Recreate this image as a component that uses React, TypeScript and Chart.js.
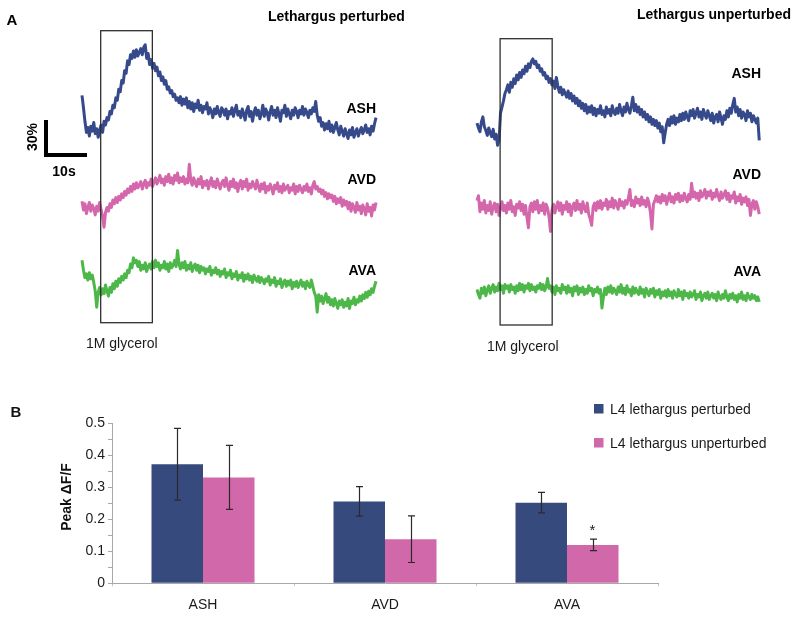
import React, { useEffect, useRef } from 'react';
import { Chart, registerables } from 'chart.js';

Chart.register(...registerables);

const FONT = '"Liberation Sans", Arial, Helvetica, sans-serif';

// ---------------- Panel A: calcium traces, ΔF/F (%) sampled every 0.35 s ----------------
const SAMPLE_INTERVAL_S = 0.35;
const TRACE_NAMES = ['ASH', 'AVD', 'AVA'];

const PERTURBED_ASH = [
  24, 14, 3, -6, -2, -9, -1, -5, 2, -7,
  -3, -10, -4, 0, -6, 3,
  0, 6, 4, 11, 9, 16, 14, 22, 20, 29, 27, 36, 34, 44, 42, 52,
  49, 57, 54, 60, 55, 61, 56, 59, 62, 57, 63, 65,
  54, 58, 49, 53, 46, 50, 44, 47, 40, 43, 36, 39,
  33, 36, 29, 31, 26, 28, 23, 25, 20, 22,
  18, 23, 16, 21, 17, 22, 14, 19,
  13, 18, 11, 17, 14, 20, 12, 16, 10, 15, 13, 18, 9, 14,
  11, 6, 13, 9, 15, 10, 7, 14, 12, 8, 13, 5, 11, 9, 14, 7, 12, 16, 8, 11,
  6, 13, 9, 4, 12, 15, 7, 11, 3, 10,
  14, 8, 12, 5, 9, 16, 7, 13, 10, 4,
  11, 15, 8, 12, 6, 14, 9, 3, 12, 10,
  16, 7, 13, 9, 5, 12, 8, 14, 11, 6,
  12, 9, 15, 8, 13, 10, 6, 12, 9, 14, 11, 19,
  8, 3, 6, -1, 2, -4, 1, -3, 3, -5,
  0, -6, -2, 2, -4, -8, -1, -5, -9, -3,
  -7, -11, -4, -8, -2, -10, -6, -3, -9, -5,
  -2, -7, -4, 0, -6, -3, -8, -1, -5, 1, 6,
];
const PERTURBED_AVD = [
  3, -4, 1, -7, -2, 2, -5, 0, -3, -8,
  -1, -5, 2, -4, -9, -18, -6, -2, -5, 1,
  -2, 4, 1, 6, 2, 7, 4, 9, 6, 11,
  8, 13, 10, 15, 11, 17, 13, 18, 14, 16,
  19, 13, 17, 20, 14, 18, 16, 21, 15, 19,
  22, 17, 20, 24, 18, 21, 16, 23, 19, 25,
  18, 22, 17, 24, 20, 26, 18, 22, 19, 23,
  17, 21, 18, 33, 20, 16, 22, 18, 15, 21,
  17, 23, 14, 19, 16, 20, 13, 18, 22, 15,
  19, 14, 21, 17, 13, 18, 20, 15, 22, 16,
  12, 19, 15, 21, 14, 18, 11, 17, 20, 13,
  19, 15, 21, 12, 17, 14, 19, 16, 13, 20,
  15, 11, 17, 13, 18, 10, 15, 12, 17, 14,
  9, 16, 13, 18, 11, 15, 10, 17, 12, 14,
  16, 10, 14, 12, 17, 9, 15, 11, 16, 13,
  10, 15, 12, 17, 11, 14, 9, 16, 19, 13,
  15, 11, 13, 9, 12, 7, 10, 5, 9, 6,
  8, 3, 7, 1, 5, 2, 6, -1, 4, 0,
  3, -3, 2, -5, 1, -2, -6, 2, -4, -1,
  -7, 0, -3, -8, 1, -5, -2, -9, 0, -4,
  2,
];
const PERTURBED_AVA = [
  20, 12, 6, 9, 4, 10, 5, 8, 2, -5,
  -18, -6, -2, -8, -3, -7, 0, -5, -9, -2,
  -6, 1, -3, 3, -1, 5, 2, 7, 4, 9,
  6, 12, 10, 17, 14, 22, 18, 20, 15, 19,
  12, 16, 13, 18, 11, 15, 17, 13, 19, 14,
  20, 15, 18, 12, 16, 14, 19, 13, 17, 11,
  18, 14, 16, 20, 15, 28, 17, 13, 18, 14,
  19, 12, 16, 13, 18, 11, 15, 17, 12, 16,
  10, 15, 12, 14, 9, 13, 11, 15, 8, 12,
  10, 14, 9, 12, 7, 11, 9, 13, 6, 10,
  8, 12, 5, 9, 7, 11, 4, 8, 6, 10,
  3, 8, 5, 9, 4, 7, 2, 8, 5, 3,
  7, 2, 6, 4, 1, 5, 3, 7, 0, 4,
  2, 6, -1, 3, 1, 5, -2, 2, 4, -1,
  3, 0, 4, -3, 2, -1, 3, -2, 1, 4,
  -1, 2, -3, 3, 0, -2, 4, -1, -6, -9,
  -22, -8, -13, -9, -15, -11, -7, -14, -10, -16,
  -12, -17, -11, -15, -19, -13, -16, -12, -18, -14,
  -17, -11, -19, -13, -15, -10, -16, -12, -14, -9,
  -13, -8, -11, -6, -10, -5, -8, -3, -6, -1,
  3,
];

const UNPERTURBED_ASH = [
  4, 0, -3, 5, 9, 1, -2, -6, 0, -4,
  -7, -1, -9, -5, -14, -10, 12, 17, 22, 28,
  31, 35, 29, 37, 33, 40, 36, 43, 39, 45,
  41, 47, 44, 50, 46, 52, 49, 54, 56, 52,
  54, 49, 51, 46, 48, 43, 45, 40, 42, 37,
  40, 35, 38, 32, 41, 34, 29, 33, 27, 31,
  28, 25, 30, 24, 28, 22, 26, 20, 24, 18,
  22, 16, 20, 14, 19, 12, 17, 13, 18, 11,
  16, 10, 15, 12, 18, 11, 14, 9, 17, 12,
  15, 10, 18, 13, 11, 16, 12, 19, 14, 10,
  17, 13, 20, 15, 12, 18, 25, 14, 19, 13,
  17, 11, 15, 9, 13, 7, 11, 5, 9, 3,
  7, 2, 6, 0, 4, -3, 1, -12, -4, 3,
  7, 2, 9, 4, 10, 3, 8, 5, 11, 6,
  12, 7, 13, 9, 6, 14, 10, 15, 8, 12,
  16, 9, 13, 7, 15, 11, 8, 14, 10, 6,
  12, 4, 9, 11, 5, 13, 8, 3, 10, 7,
  14, 9, 16, 12, 19, 24, 13, 17, 10, 15,
  8, 13, 11, 6, 14, 9, 12, 5, 10, 7,
  4, 8, -10,
];
const UNPERTURBED_AVD = [
  6, 10, -3, 4, -1, 6, -4, 2, -2, 5,
  -5, 1, 4, -3, 3, -6, 0, 5, -2, 2,
  -4, 4, -1, 6, -3, 1, -6, 3, 0, 5,
  -2, 3, -5, 2, -8, -16, 1, 4, -3, 5,
  -1, 6, -4, 2, -2, 4, -5, 3, 0, -7,
  -19, -2, 3, -4, 1, 5, -2, 4, -5, 2,
  -1, 5, -3, 3, -6, 1, 4, -2, 6, -1,
  3, -4, 5, 0, -3, 4, -5, -9, -14, 1,
  4, -2, 5, 0, 6, -1, 4, 2, 7, -1,
  5, 1, 8, 0, 6, 3, -1, 7, 2, 5,
  0, 6, 3, 8, 15, 2, 6, 1, 9, 4,
  7, 2, 9, 3, 6, 1, 8, 4, -4, -17,
  3, 6, 10, 5, 9, 4, 11, 6, 10, 3,
  8, 12, 5, 9, 4, 11, 7, 12, 5, 10,
  6, 12, 8, 5, 11, 7, 20, 9, 13, 8,
  12, 6, 14, 9, 11, 15, 8, 13, 10, 14,
  7, 12, 9, 15, 10, 6, 13, 8, 11, 14,
  7, 12, 5, 10, 8, 13, 4, 9, 6, 11,
  3, 8, 5, 9, 2, 7, -6, 3, 6, -1,
  5, 1, -5,
];
const UNPERTURBED_AVA = [
  2, -2, -5, 3, -1, 4, -3, 2, 5, -1,
  3, 6, 0, 4, 1, 7, 2, 5, -1, 6,
  3, 5, 0, 6, 2, 4, -1, 5, 1, 7,
  2, 6, 0, 5, 3, 7, 1, 6, 2, 4,
  0, 5, 3, 7, 2, 6, 1, 4, 11, 3,
  5, 0, 4, -2, 5, 1, 3, -1, 6, 2,
  4, -1, 5, 0, 3, -3, 4, 1, 5, -2,
  3, 0, 4, -2, 2, -1, 5, 1, 3, -3,
  2, 0, 4, -1, 2, -13, -4, 3, -2, 4,
  0, 5, -1, 3, 1, -2, 4, 0, 6, -1,
  3, -2, 5, 0, 2, -3, 4, -1, 3, 0,
  -2, 4, -1, 2, -4, 3, 0, -3, 2, -1,
  3, -4, 1, -2, 2, -5, 0, -3, 1, -4,
  2, -3, 0, -5, 1, -2, -4, 2, -3, 0,
  -6, 1, -3, -1, -5, 0, -4, -2, 1, -6,
  -2, -4, 0, -7, -3, -1, -5, 0, -6, -3,
  -1, -5, -2, -7, 0, -4, -6, -2, -5, 1,
  -4, -7, -2, -5, -1, -6, -3, -8, -2, -5,
  0, -6, -3, -7, -1, -4, -6, -2, -5, -3,
  -7, -4, -8,
];

// glycerol stimulus windows (s from trace start)
const PERTURBED_STIMULUS = [4.45, 16.75];
const UNPERTURBED_STIMULUS = [5.5, 17.9];
const SCALE_BAR_SECONDS = 10;
const SCALE_BAR_PERCENT = 30;

// ---------------- Panel B: peak ΔF/F ----------------
const CATEGORIES = ['ASH', 'AVD', 'AVA'];
const SERIES_NAMES = ['L4 lethargus perturbed', 'L4 lethargus unperturbed'];
const PERTURBED_PEAK = [0.372, 0.256, 0.252];
const PERTURBED_ERR = [0.112, 0.046, 0.032];
const UNPERTURBED_PEAK = [0.331, 0.138, 0.12];
const UNPERTURBED_ERR = [0.1, 0.073, 0.018];
const UNPERTURBED_SIGNIFICANT = [false, false, true];
const Y_MIN = 0;
const Y_MAX = 0.5;
const Y_STEP = 0.05;

// ---------------- styling ----------------
const TRACE_COLORS = ['#36498a', '#d466ab', '#4db849'];
const BAR_COLORS = ['#364a7e', '#d068a9'];
const PX_PER_PERCENT = 37 / 30;
const PX_PER_SECOND = 4.2;
const TRACE_W = 800;
const TRACE_H = 360;

type Side = {
  areaLeft: number;
  areaRight: number;
  series: number[][];
  baselines: number[];
  labelRight: number;
  labelBaselines: number[];
  stimulus: number[];
  boxTop: number;
  boxBottom: number;
  title: string;
  titleX: number;
  titleBaseline: number;
  glycerolX: number;
  glycerolBaseline: number;
  scaleBar: boolean;
};

const LEFT_SIDE: Side = {
  areaLeft: 82,
  areaRight: 82 + PX_PER_SECOND * (PERTURBED_ASH.length - 1) * SAMPLE_INTERVAL_S,
  series: [PERTURBED_ASH, PERTURBED_AVD, PERTURBED_AVA],
  baselines: [125, 205, 285],
  labelRight: 376,
  labelBaselines: [113, 184, 275],
  stimulus: PERTURBED_STIMULUS,
  boxTop: 30.7,
  boxBottom: 322.7,
  title: 'Lethargus perturbed',
  titleX: 268,
  titleBaseline: 20.5,
  glycerolX: 86,
  glycerolBaseline: 347.5,
  scaleBar: true,
};

const RIGHT_SIDE: Side = {
  areaLeft: 477,
  areaRight: 477 + PX_PER_SECOND * (UNPERTURBED_ASH.length - 1) * SAMPLE_INTERVAL_S,
  series: [UNPERTURBED_ASH, UNPERTURBED_AVD, UNPERTURBED_AVA],
  baselines: [128, 208, 292],
  labelRight: 761,
  labelBaselines: [78, 179, 276],
  stimulus: UNPERTURBED_STIMULUS,
  boxTop: 38.7,
  boxBottom: 325,
  title: 'Lethargus unperturbed',
  titleX: 637,
  titleBaseline: 18.5,
  glycerolX: 487,
  glycerolBaseline: 351,
  scaleBar: false,
};

function TraceChart({ side }: { side: Side }) {
  const ref = useRef<HTMLCanvasElement>(null);
  useEffect(() => {
    if (!ref.current) return;
    const tMax = (side.series[0].length - 1) * SAMPLE_INTERVAL_S;
    const scales: any = {
      x: { type: 'linear', min: 0, max: tMax, display: false },
    };
    side.series.forEach((_, i) => {
      const b = side.baselines[i];
      scales['y' + i] = {
        type: 'linear',
        display: false,
        min: -(TRACE_H - b) / PX_PER_PERCENT,
        max: b / PX_PER_PERCENT,
      };
    });
    const datasets = side.series.map((s, i) => ({
      label: TRACE_NAMES[i],
      data: s.map((v, j) => ({ x: j * SAMPLE_INTERVAL_S, y: v })),
      yAxisID: 'y' + i,
      borderColor: TRACE_COLORS[i],
      backgroundColor: TRACE_COLORS[i],
      borderWidth: 3,
      pointRadius: 0,
      tension: 0,
      borderJoinStyle: 'round' as const,
      clip: false as any,
    }));

    const annotations = {
      id: 'traceAnnotations',
      afterDatasetsDraw(chart: any) {
        const ctx = chart.ctx as CanvasRenderingContext2D;
        const x = chart.scales.x;
        ctx.save();
        const x1 = x.getPixelForValue(side.stimulus[0]);
        const x2 = x.getPixelForValue(side.stimulus[1]);
        ctx.strokeStyle = '#303030';
        ctx.lineWidth = 1.3;
        ctx.strokeRect(x1, side.boxTop, x2 - x1, side.boxBottom - side.boxTop);

        ctx.fillStyle = '#000';
        ctx.font = `bold 14px ${FONT}`;
        ctx.textAlign = 'right';
        ctx.textBaseline = 'alphabetic';
        chart.data.datasets.forEach((ds: any, i: number) => {
          ctx.fillText(ds.label, side.labelRight, side.labelBaselines[i]);
        });
        ctx.textAlign = 'left';
        ctx.fillText(side.title, side.titleX, side.titleBaseline);
        ctx.font = `14px ${FONT}`;
        ctx.fillStyle = '#1a1a1a';
        ctx.fillText('1M glycerol', side.glycerolX, side.glycerolBaseline);

        if (side.scaleBar) {
          const y0 = chart.scales.y0;
          const hLen = x.getPixelForValue(SCALE_BAR_SECONDS) - x.getPixelForValue(0);
          const vLen = y0.getPixelForValue(0) - y0.getPixelForValue(SCALE_BAR_PERCENT);
          const cornerX = 44;
          const cornerY = 157;
          ctx.fillStyle = '#000';
          ctx.fillRect(cornerX, cornerY - vLen, 4, vLen);
          ctx.fillRect(cornerX, cornerY - 4, hLen + 1, 4);
          ctx.font = `bold 14px ${FONT}`;
          ctx.textAlign = 'center';
          ctx.fillText(`${SCALE_BAR_SECONDS}s`, 64, 175.5);
          ctx.save();
          ctx.translate(36.5, 137);
          ctx.rotate(-Math.PI / 2);
          ctx.textAlign = 'center';
          ctx.fillText(`${SCALE_BAR_PERCENT}%`, 0, 0);
          ctx.restore();
          ctx.textAlign = 'center';
          ctx.font = `bold 15px ${FONT}`;
          ctx.fillText('A', 12, 24.5);
        }
        ctx.restore();
      },
    };

    const chart = new Chart(ref.current, {
      type: 'line',
      data: { datasets: datasets as any },
      options: {
        animation: false,
        responsive: false,
        maintainAspectRatio: false,
        events: [],
        layout: {
          padding: { left: side.areaLeft, right: TRACE_W - side.areaRight, top: 0, bottom: 0 },
        },
        plugins: { legend: { display: false }, tooltip: { enabled: false } },
        scales,
      },
      plugins: [annotations],
    });
    return () => chart.destroy();
  }, []);
  return (
    <canvas
      ref={ref}
      width={TRACE_W}
      height={TRACE_H}
      style={{ position: 'absolute', left: 0, top: 0, width: TRACE_W, height: TRACE_H }}
    />
  );
}

const BAR_TOP = 380;
const BAR_W = 800;
const BAR_H = 237;
const Y_AXIS_W = 40;
const X_AXIS_H = 30;
const AREA = { left: 112, right: 658, top: 423.3, bottom: 583.3 };

function PeakBarChart() {
  const ref = useRef<HTMLCanvasElement>(null);
  useEffect(() => {
    if (!ref.current) return;
    const means = [PERTURBED_PEAK, UNPERTURBED_PEAK];
    const errs = [PERTURBED_ERR, UNPERTURBED_ERR];
    const overlay = {
      id: 'barOverlay',
      afterDatasetsDraw(chart: any) {
        const ctx = chart.ctx as CanvasRenderingContext2D;
        const y = chart.scales.y;
        ctx.save();
        ctx.strokeStyle = '#2a2a2a';
        ctx.lineWidth = 1.2;
        chart.data.datasets.forEach((_: any, di: number) => {
          const meta = chart.getDatasetMeta(di);
          meta.data.forEach((bar: any, i: number) => {
            const cx = Math.round(bar.x) + 0.5;
            const top = y.getPixelForValue(means[di][i] + errs[di][i]);
            const bot = y.getPixelForValue(means[di][i] - errs[di][i]);
            ctx.beginPath();
            ctx.moveTo(cx, top);
            ctx.lineTo(cx, bot);
            ctx.moveTo(cx - 3.5, top);
            ctx.lineTo(cx + 3.5, top);
            ctx.moveTo(cx - 3.5, bot);
            ctx.lineTo(cx + 3.5, bot);
            ctx.stroke();
            if (di === 1 && UNPERTURBED_SIGNIFICANT[i]) {
              ctx.fillStyle = '#222';
              ctx.font = `15px ${FONT}`;
              ctx.textAlign = 'center';
              ctx.textBaseline = 'alphabetic';
              ctx.fillText('*', cx - 1, top - 4);
            }
          });
        });
        ctx.fillStyle = '#111';
        ctx.font = `bold 14px ${FONT}`;
        ctx.save();
        ctx.translate(71, 497 - BAR_TOP);
        ctx.rotate(-Math.PI / 2);
        ctx.textAlign = 'center';
        ctx.textBaseline = 'alphabetic';
        ctx.fillText('Peak ΔF/F', 0, 0);
        ctx.restore();
        ctx.font = `bold 15px ${FONT}`;
        ctx.textAlign = 'center';
        ctx.textBaseline = 'alphabetic';
        ctx.fillText('B', 16, 417 - BAR_TOP);
        const rows = [408.5, 442.5];
        chart.data.datasets.forEach((ds: any, di: number) => {
          const cy = rows[di] - BAR_TOP;
          ctx.fillStyle = ds.backgroundColor;
          ctx.fillRect(594, cy - 4.5, 9.5, 9.5);
          ctx.fillStyle = '#1a1a1a';
          ctx.font = `14px ${FONT}`;
          ctx.textAlign = 'left';
          ctx.textBaseline = 'alphabetic';
          ctx.fillText(ds.label, 610, cy + 5);
        });
        ctx.restore();
      },
    };

    const chart = new Chart(ref.current, {
      type: 'bar',
      data: {
        labels: CATEGORIES,
        datasets: [
          {
            label: SERIES_NAMES[0],
            data: PERTURBED_PEAK,
            backgroundColor: BAR_COLORS[0],
            borderWidth: 0,
            barPercentage: 1,
            categoryPercentage: 103 / 182,
          },
          {
            label: SERIES_NAMES[1],
            data: UNPERTURBED_PEAK,
            backgroundColor: BAR_COLORS[1],
            borderWidth: 0,
            barPercentage: 1,
            categoryPercentage: 103 / 182,
          },
        ],
      },
      options: {
        animation: false,
        responsive: false,
        maintainAspectRatio: false,
        events: [],
        layout: {
          padding: {
            left: AREA.left - Y_AXIS_W,
            right: BAR_W - AREA.right,
            top: AREA.top - BAR_TOP,
            bottom: BAR_H - (AREA.bottom - BAR_TOP) - X_AXIS_H,
          },
        },
        plugins: { legend: { display: false }, tooltip: { enabled: false } },
        scales: {
          x: {
            grid: { display: true, drawOnChartArea: false, offset: true, tickLength: 3, color: '#c4c4c4' },
            border: { display: true, color: '#a8a8a8', width: 1 },
            ticks: { padding: 10, color: '#1a1a1a', font: { family: FONT, size: 14 } },
            afterFit: (s: any) => {
              s.height = X_AXIS_H;
            },
          },
          y: {
            min: Y_MIN,
            max: Y_MAX,
            grid: { display: true, drawOnChartArea: false, tickLength: 4, color: '#a8a8a8' },
            border: { display: true, color: '#a8a8a8', width: 1 },
            ticks: {
              stepSize: Y_STEP,
              autoSkip: false,
              padding: 3,
              color: '#1a1a1a',
              font: { family: FONT, size: 14 },
              callback: (v: any) => {
                const r = Math.round(Number(v) * 100);
                return r % 10 === 0 ? String(r / 100) : '';
              },
            },
            afterFit: (s: any) => {
              s.width = Y_AXIS_W;
            },
          },
        },
      },
      plugins: [overlay],
    });
    return () => chart.destroy();
  }, []);
  return (
    <canvas
      ref={ref}
      width={BAR_W}
      height={BAR_H}
      style={{ position: 'absolute', left: 0, top: BAR_TOP, width: BAR_W, height: BAR_H }}
    />
  );
}

export default function App() {
  return (
    <div
      style={{
        position: 'absolute',
        left: 0,
        top: 0,
        width: 800,
        height: 617,
        background: '#ffffff',
        overflow: 'hidden',
      }}
    >
      <TraceChart side={LEFT_SIDE} />
      <TraceChart side={RIGHT_SIDE} />
      <PeakBarChart />
    </div>
  );
}
